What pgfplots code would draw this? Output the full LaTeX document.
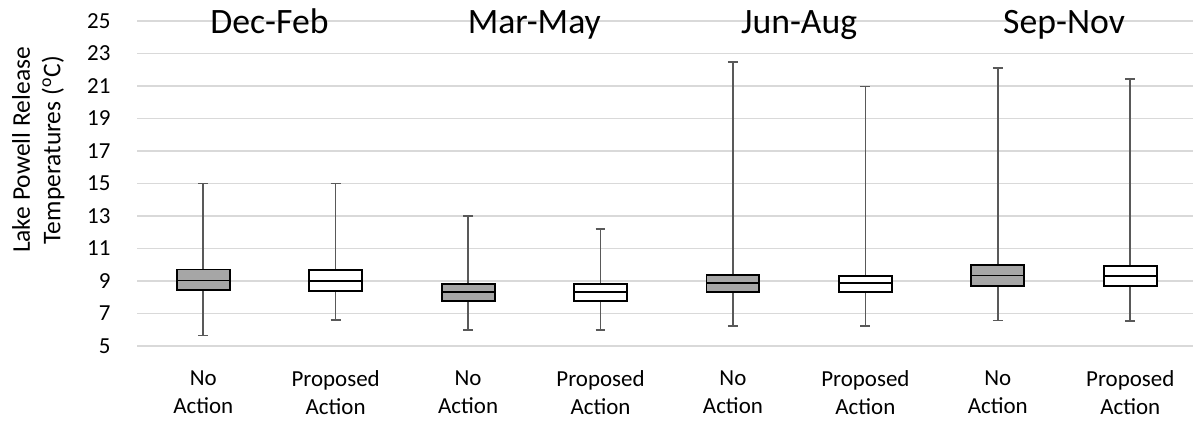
\documentclass[border=0pt]{standalone}
\usepackage{fontspec}
\setmainfont{Carlito}
\usepackage{pgfplots}
\pgfplotsset{compat=1.18}
\usepgfplotslibrary{statistics}
\definecolor{gridc}{HTML}{D9D9D9}
\definecolor{boxgray}{HTML}{A6A6A6}
\definecolor{whisk}{HTML}{595959}
\begin{document}
\begin{tikzpicture}
\begin{axis}[
  at={(0,0)}, anchor=south west,
  scale only axis, width=414.1pt, height=127.45pt,
  xmin=-0.5, xmax=7.474, ymin=5, ymax=25,
  ytick={5,7,...,25},
  xtick={0,1,2,3,4,5,6,7},
  xticklabels={No\\Action, Proposed\\Action, No\\Action, Proposed\\Action, No\\Action, Proposed\\Action, No\\Action, Proposed\\Action},
  xticklabel style={align=center, anchor=north, inner sep=0pt, yshift=-9.4pt, font=\fontsize{9}{11}\selectfont},
  yticklabel style={anchor=east, inner sep=0pt, xshift=-10.2pt, font=\fontsize{9}{11}\selectfont},
  /pgf/number format/assume math mode=true,
  ymajorgrids, grid style={gridc, line width=0.55pt},
  axis line style={draw=none}, major tick length=0pt,
  ylabel={Lake Powell Release\\Temperatures (\textsuperscript{o}C)},
  ylabel style={align=center, font=\fontsize{10}{12}\selectfont, at={(axis description cs:-0.0935,0.603)}, anchor=center},
  clip=false,
  boxplot/draw direction=y,
  boxplot/every whisker/.style={draw=whisk, line width=0.65pt},
  boxplot/every median/.style={draw=black, line width=0.75pt},
  boxplot/every box/.style={draw=black, line width=0.75pt},
]
\addplot[fill=boxgray, boxplot prepared={draw position=0, lower whisker=5.65, lower quartile=8.42, median=9.03, upper quartile=9.71, upper whisker=15.0, box extend=0.4, whisker extend=0.075}] coordinates {};
\addplot[fill=white, boxplot prepared={draw position=1, lower whisker=6.59, lower quartile=8.40, median=9.01, upper quartile=9.67, upper whisker=15.0, box extend=0.4, whisker extend=0.075}] coordinates {};
\addplot[fill=boxgray, boxplot prepared={draw position=2, lower whisker=5.98, lower quartile=7.78, median=8.33, upper quartile=8.80, upper whisker=13.0, box extend=0.4, whisker extend=0.075}] coordinates {};
\addplot[fill=white, boxplot prepared={draw position=3, lower whisker=5.98, lower quartile=7.78, median=8.35, upper quartile=8.80, upper whisker=12.22, box extend=0.4, whisker extend=0.075}] coordinates {};
\addplot[fill=boxgray, boxplot prepared={draw position=4, lower whisker=6.22, lower quartile=8.35, median=8.89, upper quartile=9.36, upper whisker=22.48, box extend=0.4, whisker extend=0.075}] coordinates {};
\addplot[fill=white, boxplot prepared={draw position=5, lower whisker=6.22, lower quartile=8.33, median=8.86, upper quartile=9.30, upper whisker=20.97, box extend=0.4, whisker extend=0.075}] coordinates {};
\addplot[fill=boxgray, boxplot prepared={draw position=6, lower whisker=6.57, lower quartile=8.72, median=9.34, upper quartile=9.99, upper whisker=22.10, box extend=0.4, whisker extend=0.075}] coordinates {};
\addplot[fill=white, boxplot prepared={draw position=7, lower whisker=6.55, lower quartile=8.70, median=9.32, upper quartile=9.93, upper whisker=21.43, box extend=0.4, whisker extend=0.075}] coordinates {};
\node[font=\fontsize{14}{16.8}\selectfont, anchor=base] at (axis cs:0.5,24.24) {Dec-Feb};
\node[font=\fontsize{14}{16.8}\selectfont, anchor=base] at (axis cs:2.5,24.24) {Mar-May};
\node[font=\fontsize{14}{16.8}\selectfont, anchor=base] at (axis cs:4.5,24.24) {Jun-Aug};
\node[font=\fontsize{14}{16.8}\selectfont, anchor=base] at (axis cs:6.5,24.24) {Sep-Nov};
\end{axis}
\pgfresetboundingbox
\path[use as bounding box] (-53.73pt,-30.98pt) rectangle (414.1pt,135.69pt);
\end{tikzpicture}
\end{document}
